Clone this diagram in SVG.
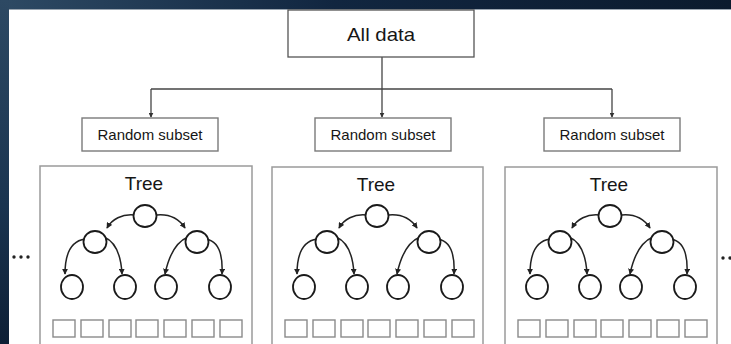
<svg xmlns="http://www.w3.org/2000/svg" width="731" height="344" viewBox="0 0 731 344">
  <defs>
    <linearGradient id="bgSide" x1="0" y1="0" x2="0" y2="1">
      <stop offset="0" stop-color="#2d4963"/>
      <stop offset="0.6" stop-color="#1a3450"/>
      <stop offset="1" stop-color="#0d1f35"/>
    </linearGradient>
    <linearGradient id="bgTop" x1="0" y1="0" x2="1" y2="0">
      <stop offset="0" stop-color="#2d4963"/>
      <stop offset="0.45" stop-color="#112640"/>
      <stop offset="1" stop-color="#0b1b2e"/>
    </linearGradient>
    <marker id="arrow" viewBox="0 0 8 8" refX="7" refY="4" markerWidth="6" markerHeight="6" markerUnits="userSpaceOnUse" orient="auto">
      <path d="M0,0 L8,4 L0,8 Z" fill="#222"/>
    </marker>
    <marker id="arrowS" viewBox="0 0 8 8" refX="7" refY="4" markerWidth="5" markerHeight="5" markerUnits="userSpaceOnUse" orient="auto">
      <path d="M0,0 L8,4 L0,8 Z" fill="#333"/>
    </marker>
  </defs>
  <style>
    .lbl { font-family: "Liberation Sans", Arial, sans-serif; fill: #161616; text-anchor: middle; }
    .box { fill: #ffffff; stroke: #7a7a7a; stroke-width: 1.4; }
    .panel { fill: #ffffff; stroke: #9a9a9a; stroke-width: 1.5; }
    .node { fill: #ffffff; stroke: #1a1a1a; stroke-width: 1.8; }
    .edge { fill: none; stroke: #222; stroke-width: 1.5; marker-end: url(#arrow); }
    .leafbox { fill: #ffffff; stroke: #8a8a8a; stroke-width: 1.4; }
    .conn { fill: none; stroke: #444; stroke-width: 1.3; }
    .dots { fill: #222; }
  </style>

  <!-- backdrop -->
  <rect x="0" y="0" width="731" height="344" fill="url(#bgSide)"/>
  <rect x="9" y="0" width="722" height="10" fill="url(#bgTop)"/>
  <rect x="9" y="10" width="722" height="334" fill="#ffffff"/>
  <line x1="9" y1="9.5" x2="731" y2="9.5" stroke="#9aa5b0" stroke-width="1.2"/>

  <!-- connectors from the full data set to each random subset -->
  <g id="connectors">
    <line class="conn" x1="382" y1="57" x2="382" y2="89"/>
    <line class="conn" x1="151" y1="89" x2="612" y2="89"/>
    <line class="conn" x1="151" y1="89" x2="151" y2="117" marker-end="url(#arrowS)"/>
    <line class="conn" x1="382" y1="89" x2="382" y2="117" marker-end="url(#arrowS)"/>
    <line class="conn" x1="612" y1="89" x2="612" y2="117" marker-end="url(#arrowS)"/>
  </g>

  <g id="all-data">
    <rect x="288" y="10" width="186" height="47" fill="#ffffff" stroke="#555" stroke-width="1.3"/>
    <text class="lbl" x="381" y="41" font-size="19" textLength="68" lengthAdjust="spacingAndGlyphs">All data</text>
  </g>

  <g id="subset-1">
    <rect class="box" x="82" y="118" width="136" height="33"/>
    <text class="lbl" x="150" y="140" font-size="15" textLength="105" lengthAdjust="spacingAndGlyphs">Random subset</text>
  </g>
  <g id="subset-2">
    <rect class="box" x="315" y="118" width="136" height="33"/>
    <text class="lbl" x="383" y="140" font-size="15" textLength="105" lengthAdjust="spacingAndGlyphs">Random subset</text>
  </g>
  <g id="subset-3">
    <rect class="box" x="544" y="118" width="136" height="33"/>
    <text class="lbl" x="612" y="140" font-size="15" textLength="105" lengthAdjust="spacingAndGlyphs">Random subset</text>
  </g>

  <!-- one decision tree per subset; drawn in panel-local coordinates -->
  <g id="tree-1" transform="translate(40,0)">
    <rect class="panel" x="0" y="166" width="212" height="190"/>
    <text class="lbl" x="104" y="190" font-size="19">Tree</text>
    <path class="edge" d="M94,215 C82,214 72,219 67,228"/>
    <path class="edge" d="M117,215 C129,214 139,219 145,228"/>
    <path class="edge" d="M45,239 C31,241 25,254 25,274"/>
    <path class="edge" d="M64,237 C76,242 81,255 82,274"/>
    <path class="edge" d="M148,237 C136,242 129,255 125,274"/>
    <path class="edge" d="M166,239 C178,241 183,254 182,274"/>
    <ellipse class="node" cx="105" cy="216" rx="11.5" ry="11"/>
    <ellipse class="node" cx="55" cy="242" rx="11.5" ry="11"/>
    <ellipse class="node" cx="157" cy="242" rx="11.5" ry="11"/>
    <ellipse class="node" cx="32" cy="287" rx="11" ry="12"/>
    <ellipse class="node" cx="85" cy="287" rx="11" ry="12"/>
    <ellipse class="node" cx="126" cy="287" rx="11" ry="12"/>
    <ellipse class="node" cx="180" cy="287" rx="11" ry="12"/>
    <rect class="leafbox" x="13" y="320" width="22" height="17"/>
    <rect class="leafbox" x="41" y="320" width="22" height="17"/>
    <rect class="leafbox" x="69" y="320" width="22" height="17"/>
    <rect class="leafbox" x="96" y="320" width="22" height="17"/>
    <rect class="leafbox" x="124" y="320" width="22" height="17"/>
    <rect class="leafbox" x="152" y="320" width="22" height="17"/>
    <rect class="leafbox" x="180" y="320" width="22" height="17"/>
  </g>

  <g id="tree-2" transform="translate(272,0)">
    <rect class="panel" x="0" y="167" width="211" height="190"/>
    <text class="lbl" x="104" y="191" font-size="19">Tree</text>
    <path class="edge" d="M94,215 C82,214 72,219 67,228"/>
    <path class="edge" d="M117,215 C129,214 139,219 145,228"/>
    <path class="edge" d="M45,239 C31,241 25,254 25,274"/>
    <path class="edge" d="M64,237 C76,242 81,255 82,274"/>
    <path class="edge" d="M148,237 C136,242 129,255 125,274"/>
    <path class="edge" d="M166,239 C178,241 183,254 182,274"/>
    <ellipse class="node" cx="105" cy="216" rx="11.5" ry="11"/>
    <ellipse class="node" cx="55" cy="242" rx="11.5" ry="11"/>
    <ellipse class="node" cx="157" cy="242" rx="11.5" ry="11"/>
    <ellipse class="node" cx="32" cy="287" rx="11" ry="12"/>
    <ellipse class="node" cx="85" cy="287" rx="11" ry="12"/>
    <ellipse class="node" cx="126" cy="287" rx="11" ry="12"/>
    <ellipse class="node" cx="180" cy="287" rx="11" ry="12"/>
    <rect class="leafbox" x="13" y="320" width="22" height="17"/>
    <rect class="leafbox" x="41" y="320" width="22" height="17"/>
    <rect class="leafbox" x="69" y="320" width="22" height="17"/>
    <rect class="leafbox" x="96" y="320" width="22" height="17"/>
    <rect class="leafbox" x="124" y="320" width="22" height="17"/>
    <rect class="leafbox" x="152" y="320" width="22" height="17"/>
    <rect class="leafbox" x="180" y="320" width="22" height="17"/>
  </g>

  <g id="tree-3" transform="translate(505,0)">
    <rect class="panel" x="0" y="167" width="212" height="190"/>
    <text class="lbl" x="104" y="191" font-size="19">Tree</text>
    <path class="edge" d="M94,215 C82,214 72,219 67,228"/>
    <path class="edge" d="M117,215 C129,214 139,219 145,228"/>
    <path class="edge" d="M45,239 C31,241 25,254 25,274"/>
    <path class="edge" d="M64,237 C76,242 81,255 82,274"/>
    <path class="edge" d="M148,237 C136,242 129,255 125,274"/>
    <path class="edge" d="M166,239 C178,241 183,254 182,274"/>
    <ellipse class="node" cx="105" cy="216" rx="11.5" ry="11"/>
    <ellipse class="node" cx="55" cy="242" rx="11.5" ry="11"/>
    <ellipse class="node" cx="157" cy="242" rx="11.5" ry="11"/>
    <ellipse class="node" cx="32" cy="287" rx="11" ry="12"/>
    <ellipse class="node" cx="85" cy="287" rx="11" ry="12"/>
    <ellipse class="node" cx="126" cy="287" rx="11" ry="12"/>
    <ellipse class="node" cx="180" cy="287" rx="11" ry="12"/>
    <rect class="leafbox" x="13" y="320" width="22" height="17"/>
    <rect class="leafbox" x="41" y="320" width="22" height="17"/>
    <rect class="leafbox" x="69" y="320" width="22" height="17"/>
    <rect class="leafbox" x="96" y="320" width="22" height="17"/>
    <rect class="leafbox" x="124" y="320" width="22" height="17"/>
    <rect class="leafbox" x="152" y="320" width="22" height="17"/>
    <rect class="leafbox" x="180" y="320" width="22" height="17"/>
  </g>

  <!-- ellipses marking further trees on either side -->
  <g id="more-left">
    <circle class="dots" cx="14" cy="257" r="1.7"/>
    <circle class="dots" cx="21" cy="257" r="1.7"/>
    <circle class="dots" cx="28" cy="257" r="1.7"/>
  </g>
  <g id="more-right">
    <circle class="dots" cx="723" cy="258" r="1.7"/>
    <circle class="dots" cx="730" cy="258" r="1.7"/>
  </g>
</svg>
